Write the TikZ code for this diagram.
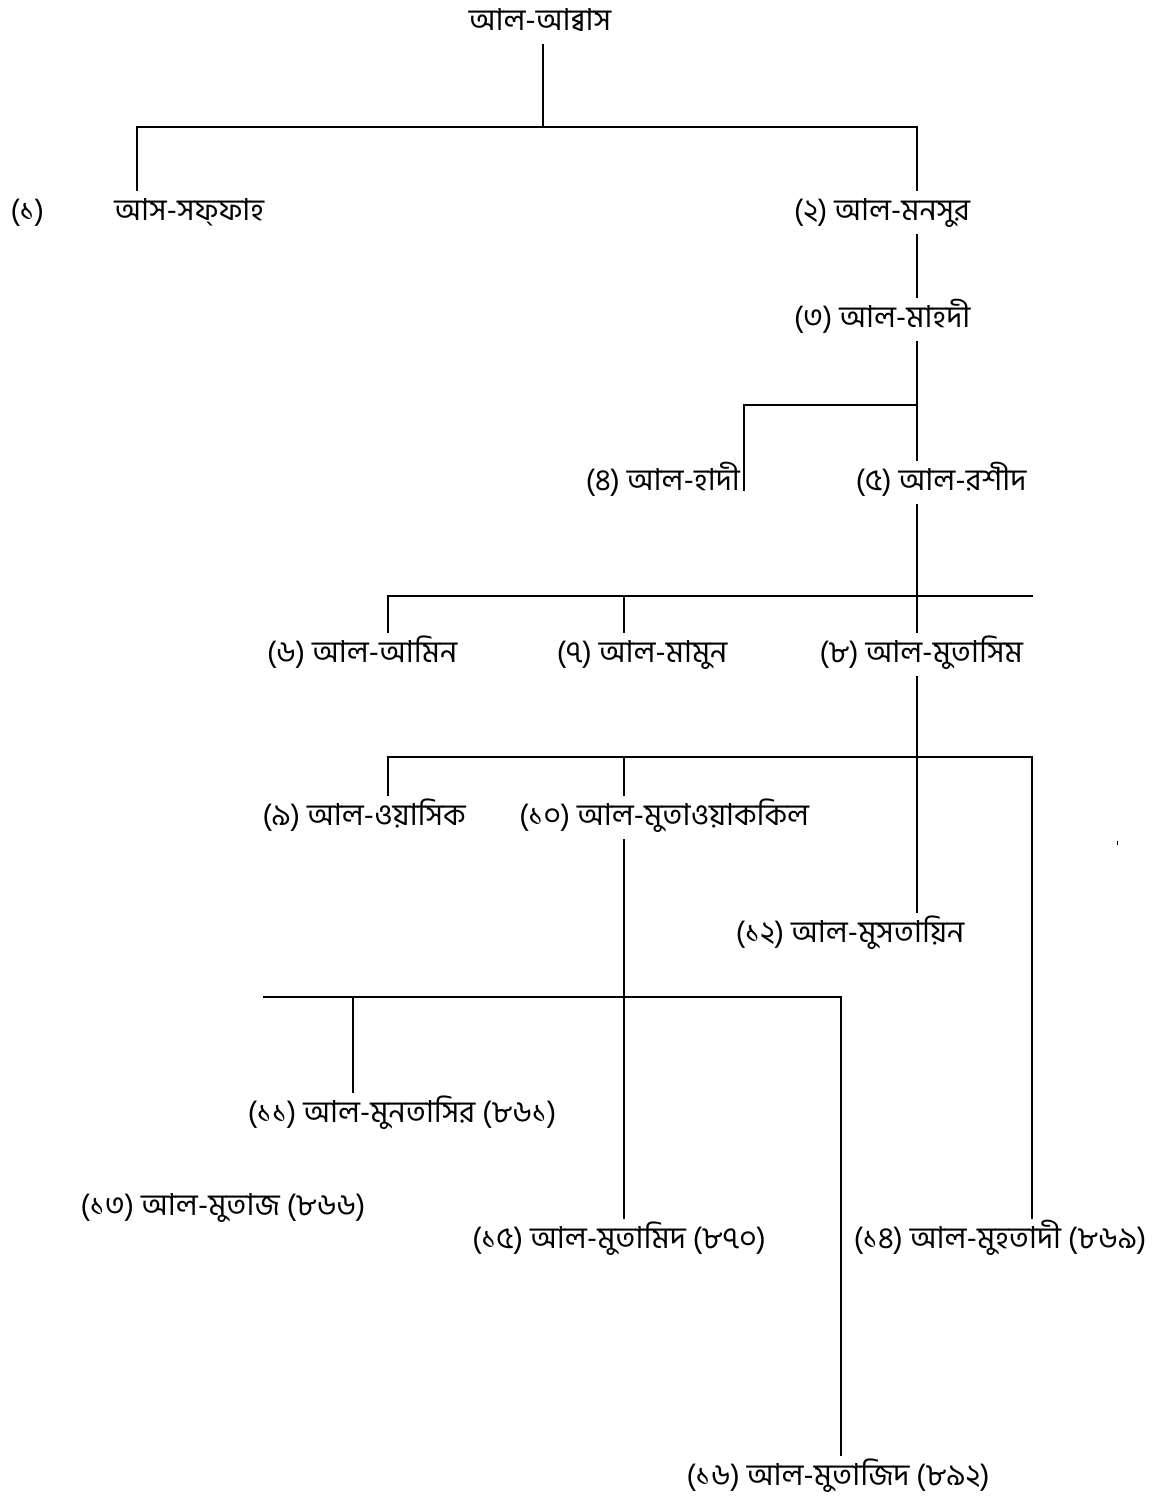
\documentclass[tikz,border=0pt]{standalone}
\usepackage{fontspec}
\newfontfamily\bangla[Script=Bengali]{Hind Siliguri}
\usepackage{tikz}
\tikzset{member/.style={font=\bangla\fontsize{21.5}{25}\selectfont, anchor=base,
    inner sep=0pt, text height=21pt, text depth=10pt},
  stem/.style={line width=0.8pt},
  rail/.style={line width=1.6pt}}

\begin{document}
\begin{tikzpicture}[x=0.025cm, y=-0.025cm, line cap=rect]
  \useasboundingbox (0,0) rectangle (1168,1501);

  % names, placed on their baselines
  \draw (540,30) node [member] (abbas) {আল-আব্বাস};
  \draw (10,220) node [member, anchor=base west] (saffah) {(১)\hspace{50pt}আস-সফ্ফাহ};
  \draw (882,220) node [member] (mansur) {(২) আল-মনসুর};
  \draw (882,327) node [member] (mahdi) {(৩) আল-মাহদী};
  \draw (740,490) node [member, anchor=base east] (hadi) {(৪) আল-হাদী};
  \draw (941,490) node [member] (rashid) {(৫) আল-রশীদ};
  \draw (362,662) node [member] (amin) {(৬) আল-আমিন};
  \draw (642,662) node [member] (mamun) {(৭) আল-মামুন};
  \draw (921,662) node [member] (mutasim) {(৮) আল-মুতাসিম};
  \draw (364,825) node [member] (wasiq) {(৯) আল-ওয়াসিক};
  \draw (664,825) node [member] (mutawakkil) {(১০) আল-মুতাওয়াককিল};
  \draw (850,942) node [member] (mustain) {(১২) আল-মুসতায়িন};
  \draw (402,1122) node [member] (muntasir) {(১১) আল-মুনতাসির (৮৬১)};
  \draw (223,1215) node [member] (mutazz) {(১৩) আল-মুতাজ (৮৬৬)};
  \draw (619,1248) node [member] (mutamid) {(১৫) আল-মুতামিদ (৮৭০)};
  \draw (1000,1248) node [member] (muhtadi) {(১৪) আল-মুহতাদী (৮৬৯)};
  \draw (838,1485) node [member] (mutadid) {(১৬) আল-মুতাজিদ (৮৯২)};

  \coordinate (r0w) at (137,127);
  \coordinate (r0m) at (543,127);
  \coordinate (r0e) at (917,127);
  \coordinate (r1w) at (744,405);
  \coordinate (r1e) at (917,405);
  \coordinate (r2w) at (388,596);
  \coordinate (r2m) at (624,596);
  \coordinate (r2e) at (1032,596);
  \coordinate (r3w) at (388,757);
  \coordinate (r3m) at (624,757);
  \coordinate (r3e) at (1032,757);
  \coordinate (r4w) at (264,997);
  \coordinate (r4m) at (353,997);
  \coordinate (r4e) at (841,997);

  % first generation
  \draw [stem] (abbas.south -| r0m) -- (r0m);
  \draw [rail] (r0w) -- (r0e);
  \draw [stem] (r0w) -- (r0w |- saffah.north);
  \draw [stem] (r0e) -- (r0e |- mansur.north);
  \draw [stem] (r0e |- mansur.south) -- (r0e |- mahdi.north);

  \draw [stem] (r1e |- mahdi.south) -- (r1e |- rashid.north);
  \draw [rail] (r1w) -- (r1e);
  \draw [stem] (r1w) -- (r1w |- hadi.base);

  \draw [stem] (r1e |- rashid.south) -- (r1e |- mutasim.north);
  \draw [rail] (r2w) -- (r2e);
  \draw [stem] (r2w) -- (r2w |- amin.north);
  \draw [stem] (r2m) -- (r2m |- mamun.north);

  \draw [stem] (r1e |- mutasim.south) -- (r1e |- mustain.north);
  \draw [rail] (r3w) -- (r3e);
  \draw [stem] (r3w) -- (r3w |- wasiq.north);
  \draw [stem] (r3m) -- (r3m |- mutawakkil.north);
  \draw [stem] (r3e) -- (r3e |- muhtadi.north);

  \draw [stem] (r3m |- mutawakkil.south) -- (r3m |- mutamid.north);
  \draw [rail] (r4w) -- (r4e);
  \draw [stem] (r4m) -- (r4m |- muntasir.north);
  \draw [stem] (r4e) -- (r4e |- mutadid.north);

  \fill (1116.5,841) rectangle (1118,845);

\end{tikzpicture}
\end{document}
